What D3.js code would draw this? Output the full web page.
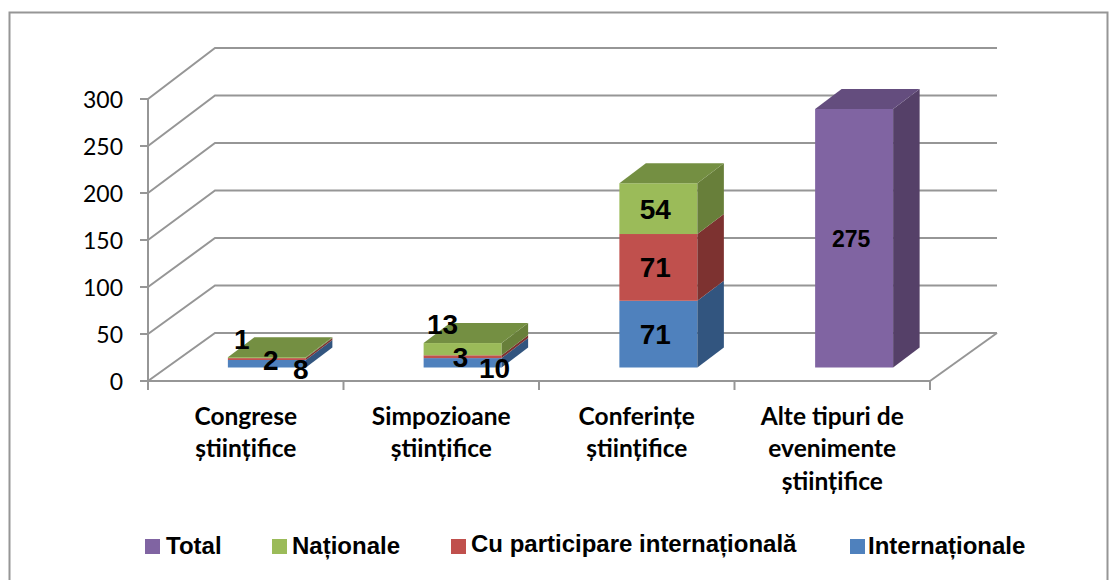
<!DOCTYPE html>
<html>
<head>
<meta charset="utf-8">
<script src="https://cdn.jsdelivr.net/npm/d3@7"></script>
<style>
html,body{margin:0;padding:0;background:#fff;overflow:hidden}
svg{display:block}
</style>
</head>
<body>
<svg id="chart" width="1120" height="580"></svg>
<script>
const categories = [
  ["Congrese", "științifice"],
  ["Simpozioane", "științifice"],
  ["Conferințe", "științifice"],
  ["Alte tipuri de", "evenimente", "științifice"]
];
const seriesNames = ["Internaționale", "Cu participare internațională", "Naționale", "Total"];
const international = [8, 10, 71, 0];
const cuParticipare = [2, 3, 71, 0];
const nationale = [1, 13, 54, 0];
const total = [0, 0, 0, 275];
const yTicks = [0, 50, 100, 150, 200, 250, 300];

const faceColors = ["#4F81BD", "#C0504D", "#9BBB59", "#8064A2"];
const sideColors = ["#32557F", "#7D3230", "#687F3A", "#554068"];
const topColors = ["#3F6796", "#974240", "#748F42", "#644D7E"];

// hand-placed label nudges of the original chart, [dx, dy] per series per category
const labelNudges = [
  [[34, 5], [32, 5], [-3, 0], [0, 0]],
  [[4, 1], [-2, 0], [-3, 0], [0, 0]],
  [[-25, -19], [-20, -25], [-3, 0], [0, 0]],
  [[0, 0], [0, 0], [0, 0], [-3, 0]]
];

const W = 1120, H = 580;
const grid = "#969696";
const svg = d3.select("#chart");

const x = d3.scaleBand().domain(d3.range(categories.length)).range([148, 930]);
const xBar = d3.scaleBand().domain(d3.range(categories.length)).range([148, 931]);
const yFront = d3.scaleLinear().domain([0, 300]).range([381, 99]);
const yBack = d3.scaleLinear().domain([0, 300]).range([333, 48]);
const backDx = 67;
const yBar = d3.scaleLinear().domain([0, 300]).range([367.5, 85.5]);
const barW = 78, barShift = 21, depthX = 26.5, depthY = 20;

// outer frame
svg.append("path")
  .attr("d", `M9.5,${H + 5}V12.5H1107.5V${H + 5}`)
  .attr("fill", "none").attr("stroke", grid).attr("stroke-width", 2);

// walls and gridlines
const g = svg.append("g").attr("fill", "none").attr("stroke", grid).attr("stroke-width", 2);
yTicks.forEach(t => {
  const xL = x.range()[0];
  g.append("path").attr("d", d3.line()([[xL, yFront(t)], [xL + backDx, yBack(t)], [x.range()[1] + backDx, yBack(t)]]));
  g.append("line").attr("x1", xL - 8).attr("x2", xL).attr("y1", yFront(t)).attr("y2", yFront(t));
});
g.append("line").attr("x1", 148).attr("x2", 148).attr("y1", yFront(300)).attr("y2", yFront(0) + 9);
g.append("line").attr("x1", 148).attr("x2", 930).attr("y1", yFront(0)).attr("y2", yFront(0));
g.append("line").attr("x1", 930).attr("x2", 930 + backDx).attr("y1", yFront(0)).attr("y2", yBack(0));
d3.range(1, categories.length + 1).forEach(i => {
  const px = 148 + x.step() * i;
  g.append("line").attr("x1", px).attr("x2", px).attr("y1", yFront(0)).attr("y2", yFront(0) + 9);
});

// y tick labels
svg.append("g").selectAll("text").data(yTicks).join("text")
  .attr("x", 123).attr("y", d => yFront(d) + 1).attr("dy", "0.35em")
  .attr("text-anchor", "end")
  .style("font", "23px Lato, sans-serif").attr("fill", "#000")
  .text(d => d);

// bars
const stacks = categories.map((_, i) => {
  let base = 0;
  return [international, cuParticipare, nationale, total].map((arr, s) => {
    const seg = { s, i, v: arr[i], y0: base, y1: base + arr[i] };
    base += arr[i];
    return seg;
  }).filter(d => d.v > 0);
});
const barG = svg.append("g");
stacks.forEach(stack => {
  stack.forEach((d, k) => {
    const left = xBar(d.i) + xBar.bandwidth() / 2 + barShift - barW / 2, right = left + barW;
    const yb = yBar(d.y0), yt = yBar(d.y1);
    barG.append("rect").attr("x", left).attr("y", yt).attr("width", barW).attr("height", yb - yt)
      .attr("fill", faceColors[d.s]);
    barG.append("path")
      .attr("d", d3.line()([[right, yb], [right + depthX, yb - depthY], [right + depthX, yt - depthY], [right, yt]]) + "Z")
      .attr("fill", sideColors[d.s]);
    if (k === stack.length - 1) {
      barG.append("path")
        .attr("d", d3.line()([[left, yt], [left + depthX, yt - depthY], [right + depthX, yt - depthY], [right, yt]]) + "Z")
        .attr("fill", topColors[d.s]);
    }
  });
});

// data labels
const labelG = svg.append("g");
stacks.flat().forEach(d => {
  const cx = xBar(d.i) + xBar.bandwidth() / 2 + barShift;
  const cy = (yBar(d.y0) + yBar(d.y1)) / 2;
  const n = labelNudges[d.s][d.i];
  labelG.append("text")
    .attr("x", cx + n[0]).attr("y", cy + n[1]).attr("dy", "0.36em")
    .attr("text-anchor", "middle")
    .style("font", `bold ${d.s === 3 ? 23 : 28}px "Liberation Sans", Arial, sans-serif`)
    .attr("fill", "#000")
    .text(d.v);
});

// category labels
const catG = svg.append("g");
categories.forEach((lines, i) => {
  const t = catG.append("text").attr("text-anchor", "middle")
    .style("font", "bold 24.5px Lato, sans-serif").attr("fill", "#000");
  lines.forEach((l, j) => {
    t.append("tspan").attr("x", x(i) + x.bandwidth() / 2).attr("y", 424.5 + j * 32.5).text(l);
  });
});

// legend
const legend = [
  { name: seriesNames[3], c: faceColors[3], sx: 145, tx: 166, by: 554 },
  { name: seriesNames[2], c: faceColors[2], sx: 272, tx: 292, by: 554 },
  { name: seriesNames[1], c: faceColors[1], sx: 451, tx: 471, by: 552 },
  { name: seriesNames[0], c: faceColors[0], sx: 850, tx: 868, by: 554 }
];
const lg = svg.append("g");
legend.forEach(d => {
  lg.append("rect").attr("x", d.sx).attr("y", 539).attr("width", 15).attr("height", 15).attr("fill", d.c);
  lg.append("text").attr("x", d.tx).attr("y", d.by)
    .style("font", 'bold 24px "Liberation Sans", Arial, sans-serif').attr("fill", "#000")
    .text(d.name);
});
</script>
</body>
</html>
